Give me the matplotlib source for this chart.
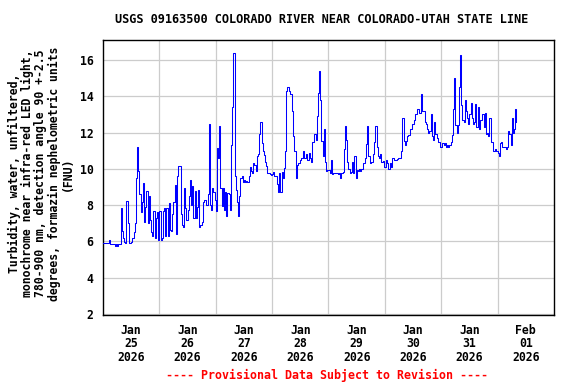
import numpy as np
import pandas as pd
import matplotlib
matplotlib.use("Agg")
import matplotlib.pyplot as plt

# Turbidity (FNU), one value every 30 minutes, one list per day
jan25 = [5.9, 5.9, 5.9, 5.9, 5.9, 6.1, 5.85, 5.85, 5.85, 5.85, 5.75, 5.85, 5.75, 5.85, 5.85, 7.85,
         6.6, 6.2, 5.95, 5.9, 8.25, 7.0, 5.9, 5.9, 5.95, 6.2, 6.5, 7.0, 9.5, 11.2, 9.9, 8.6,
         7.6, 8.2, 9.2, 7.1, 7.9, 8.8, 7.0, 8.5, 7.2, 6.5, 6.3, 7.7, 6.2, 7.3, 7.6, 6.1]
jan26 = [7.7, 6.1, 6.2, 7.7, 7.85, 6.3, 7.85, 6.3, 8.1, 6.65, 6.6, 7.5, 8.2, 9.1, 6.4, 9.6,
         10.15, 10.15, 7.5, 6.9, 6.8, 8.95, 7.85, 7.2, 7.75, 8.5, 9.4, 8.0, 9.05, 7.3, 8.8, 7.3,
         7.9, 8.85, 6.8, 6.9, 7.1, 8.2, 8.3, 8.3, 8.0, 8.6, 12.45, 8.0, 7.75, 8.95, 8.75, 8.3]
jan27 = [7.7, 11.15, 10.6, 12.35, 8.95, 7.95, 8.95, 7.75, 8.75, 7.4, 8.65, 8.6, 7.75, 11.3, 13.4, 16.4,
         9.6, 8.85, 8.2, 7.4, 8.5, 9.5, 9.6, 9.3, 9.4, 9.3, 9.35, 9.3, 9.6, 10.1, 9.9, 9.8,
         10.3, 10.2, 9.9, 10.7, 10.8, 11.9, 12.6, 11.4, 11.0, 10.75, 10.4, 10.15, 9.8, 9.8, 9.7, 9.65]
jan28 = [9.7, 9.85, 9.6, 9.6, 9.15, 8.7, 9.8, 8.7, 9.85, 9.5, 10.05, 11.0, 14.3, 14.5, 14.3, 14.1,
         14.1, 13.2, 11.8, 11.0, 9.5, 10.2, 10.35, 10.35, 10.5, 10.6, 11.0, 10.6, 10.6, 10.8, 10.5, 10.9,
         10.6, 10.4, 11.5, 11.5, 11.9, 11.6, 12.9, 14.2, 15.4, 13.8, 11.55, 10.7, 12.2, 10.4, 9.9, 9.95]
jan29 = [9.95, 9.8, 10.5, 9.7, 9.75, 9.8, 9.8, 9.8, 9.7, 9.75, 9.5, 9.8, 9.85, 11.1, 12.35, 11.6,
         10.4, 10.0, 9.8, 9.85, 10.4, 9.8, 10.7, 9.5, 9.95, 9.9, 10.0, 9.9, 10.0, 10.35, 10.35, 10.6,
         11.35, 12.35, 10.7, 10.3, 10.4, 10.4, 10.8, 11.5, 12.35, 11.2, 10.7, 10.6, 10.8, 10.4, 10.45, 10.1]
jan30 = [10.1, 10.5, 10.3, 10.0, 10.3, 10.1, 10.6, 10.6, 10.5, 10.5, 10.55, 10.6, 10.6, 10.6, 11.0, 12.8,
         11.55, 11.3, 11.55, 11.8, 11.85, 12.2, 12.2, 12.5, 12.5, 12.7, 13.0, 13.3, 13.3, 13.1, 13.1, 14.1,
         13.2, 13.2, 12.6, 12.5, 12.2, 12.0, 12.1, 13.0, 11.8, 11.6, 12.6, 11.9, 11.7, 11.5, 11.5, 11.2]
jan31 = [11.2, 11.4, 11.3, 11.4, 11.2, 11.3, 11.2, 11.3, 11.5, 11.85, 13.3, 15.0, 12.4, 12.0, 12.4, 14.5,
         16.3, 13.5, 12.7, 12.6, 13.8, 13.2, 12.8, 12.5, 13.0, 13.65, 12.8, 12.5, 12.6, 13.6, 12.3, 13.4,
         12.2, 12.7, 12.7, 13.0, 12.3, 13.1, 11.9, 12.0, 11.8, 12.8, 11.5, 11.5, 11.0, 11.0, 11.1, 11.0]
feb01 = [10.9, 10.7, 11.4, 11.5, 11.2, 11.2, 11.2, 11.1, 11.2, 12.1, 11.9, 11.3, 12.8, 12.0, 12.2, 13.3,
         12.6]

tick_months = ["Jan", "Jan", "Jan", "Jan", "Jan", "Jan", "Jan", "Feb"]
tick_days = ["25", "26", "27", "28", "29", "30", "31", "01"]
tick_years = ["2026"] * 8
y_ticks = [2, 4, 6, 8, 10, 12, 14, 16]

title = "USGS 09163500 COLORADO RIVER NEAR COLORADO-UTAH STATE LINE"
ylabel = ("Turbidity, water, unfiltered,\n"
          "monochrome near infra-red LED light,\n"
          "780-900 nm, detection angle 90 +-2.5\n"
          "degrees, formazin nephelometric units\n"
          "(FNU)")
footer = "---- Provisional Data Subject to Revision ----"

fnu = jan25 + jan26 + jan27 + jan28 + jan29 + jan30 + jan31 + feb01
times = pd.date_range("2026-01-25 00:00", periods=len(fnu), freq="30min")

plt.rcParams["font.family"] = ["DejaVu Sans Mono", "DejaVu Sans"]
plt.rcParams["font.weight"] = "bold"

fig = plt.figure(figsize=(5.76, 3.84), dpi=100)
ax = fig.add_axes([0.1788, 0.1784, 0.7830, 0.7187])

ax.plot(times, fnu, color="#0000ff", lw=0.75, drawstyle="steps-post", zorder=3)

ax.set_xlim(pd.Timestamp("2026-01-25"), pd.Timestamp("2026-02-02"))
ax.set_ylim(1.92, 17.13)

# labels at noon, grid at midnight
noons = pd.date_range("2026-01-25 12:00", periods=8, freq="D")
mids = pd.date_range("2026-01-26", periods=7, freq="D")
ax.set_xticks(noons)
ax.set_xticklabels([f"{m}\n{d}\n{y}" for m, d, y in zip(tick_months, tick_days, tick_years)],
                   fontsize=8.3, fontweight="bold", linespacing=1.05)
ax.set_xticks(mids, minor=True)
ax.set_yticks(y_ticks)
ax.set_yticklabels([str(v) for v in y_ticks], fontsize=8.3, fontweight="bold")

ax.tick_params(axis="x", which="both", length=0, pad=6)
ax.tick_params(axis="y", length=0, pad=7)
ax.grid(True, axis="x", which="minor", color="#cccccc", lw=0.9)
ax.grid(True, axis="y", which="major", color="#cccccc", lw=0.9)
for sp in ax.spines.values():
    sp.set_color("black")
    sp.set_linewidth(1.0)

fig.text(0.558, 0.948, title, ha="center", va="center", fontsize=8.6, fontweight="bold")
fig.text(0.071, 0.548, ylabel, rotation=90, ha="center", va="center", multialignment="center",
         fontsize=8.3, fontweight="bold", linespacing=1.0)
fig.text(0.568, 0.023, footer, ha="center", va="center", color="#ff0000", fontsize=8.4,
         fontweight="bold")

fig.savefig("out.png", dpi=100)
